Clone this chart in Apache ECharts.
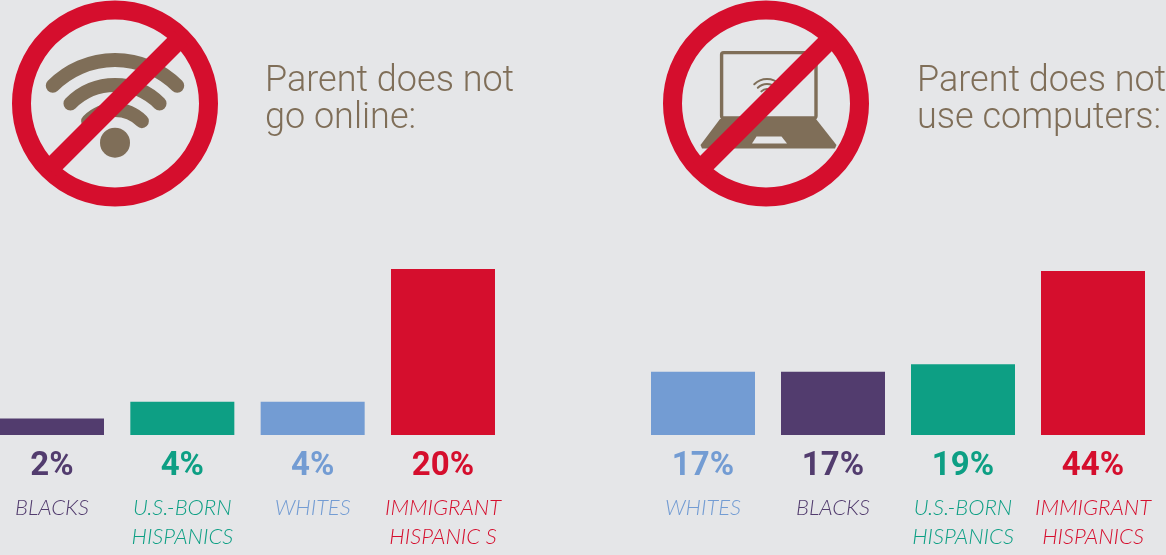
<!DOCTYPE html>
<html>
<head>
<meta charset="utf-8">
<title>Parents and technology use</title>
<script src="https://cdn.jsdelivr.net/npm/echarts@6/dist/echarts.min.js"></script>
<style>
  html, body { margin: 0; padding: 0; background: #e5e6e8; }
  #chart { width: 1166px; height: 555px; }
</style>
</head>
<body>
<div id="chart"></div>
<script>
// Share of each group's parents, in percent
const onlineCategories = ['BLACKS', 'U.S.-BORN\nHISPANICS', 'WHITES', 'IMMIGRANT\nHISPANIC S'];
const onlineGroups = ['black', 'usBorn', 'white', 'immigrant'];
const onlineValues = [2, 4, 4, 20];

const computerCategories = ['WHITES', 'BLACKS', 'U.S.-BORN\nHISPANICS', 'IMMIGRANT\nHISPANICS'];
const computerGroups = ['white', 'black', 'usBorn', 'immigrant'];
const computerValues = [17, 17, 19, 44];

const onlineTitle = 'Parent does not\ngo online:';
const computerTitle = 'Parent does not\nuse computers:';

const groupColors = { black: '#523c6e', usBorn: '#0d9f84', white: '#739cd3', immigrant: '#d50e2d' };
const RED = '#d50e2d', BROWN = '#7f6e58', PAPER = '#e5e6e8';
const deg = Math.PI / 180;

function panel(index, categories, groups, values) {
  const xAxis = {
    gridIndex: index, type: 'category', data: categories,
    axisLine: { show: false }, axisTick: { show: false },
    axisLabel: {
      interval: 0, margin: 58, lineHeight: 29, fontSize: 22, fontStyle: 'italic', fontWeight: 300,
      fontFamily: 'Lato, sans-serif',
      color: (v, i) => groupColors[groups[i]]
    }
  };
  const yAxis = { gridIndex: index, type: 'value', min: 0, max: values[3], show: false, splitLine: { show: false } };
  const series = {
    type: 'bar', xAxisIndex: index, yAxisIndex: index, barWidth: 104, silent: true,
    itemStyle: { color: p => groupColors[groups[p.dataIndex]] },
    label: {
      show: true, position: 'bottom', distance: 15, formatter: '{c}%',
      fontFamily: 'Roboto, sans-serif', fontWeight: 700, fontSize: 33
    },
    data: values.map((v, i) => ({ value: v, label: { color: groupColors[groups[i]] } }))
  };
  return { xAxis, yAxis, series };
}

// Forbidden sign: ring plus diagonal bar, drawn over the icon beneath it
function prohibition(cx, cy) {
  const d = 93 * Math.SQRT1_2;
  return [
    { type: 'circle', shape: { cx, cy, r: 93.5 }, style: { fill: 'none', stroke: RED, lineWidth: 19 } },
    { type: 'line', shape: { x1: cx - d, y1: cy + d, x2: cx + d, y2: cy - d }, style: { stroke: RED, lineWidth: 19 } }
  ];
}

function wifi(cx, cy, radii, width, dot, dotY) {
  const parts = radii.map(r => ({
    type: 'arc',
    shape: { cx, cy, r, startAngle: -135 * deg, endAngle: -45 * deg, clockwise: true },
    style: { fill: 'none', stroke: BROWN, lineWidth: width, lineCap: 'round' }
  }));
  parts.push({ type: 'circle', shape: { cx, cy: dotY, r: dot }, style: { fill: BROWN } });
  return parts;
}

function laptop() {
  return [
    { type: 'rect', shape: { x: 721.6, y: 52.6, width: 94.4, height: 65.4, r: 2 },
      style: { fill: 'none', stroke: BROWN, lineWidth: 3.4 } },
    { type: 'polygon', shape: { points: [[720, 119], [816, 119], [836.5, 145], [835, 148.5], [702, 148.5], [700.5, 145]] },
      style: { fill: BROWN } },
    { type: 'polygon', shape: { points: [[756.5, 136.5], [781.5, 136.5], [787, 143.5], [752, 143.5]] },
      style: { fill: PAPER } }
  ];
}

const a = panel(0, onlineCategories, onlineGroups, onlineValues);
const b = panel(1, computerCategories, computerGroups, computerValues);

const titleStyle = {
  fontFamily: 'Roboto, sans-serif', fontWeight: 300, fontSize: 36, lineHeight: 37, color: BROWN
};

const chart = echarts.init(document.getElementById('chart'), null, { renderer: 'canvas' });
chart.setOption({
  backgroundColor: PAPER,
  animation: false,
  title: [
    { text: onlineTitle, left: 265, top: 63, padding: 0, textStyle: titleStyle },
    { text: computerTitle, left: 917, top: 63, padding: 0, textStyle: titleStyle }
  ],
  grid: [
    { left: -13.17, width: 521.33, top: 269, height: 166, outerBoundsMode: 'none' },
    { left: 638, width: 520, top: 271, height: 164, outerBoundsMode: 'none' }
  ],
  xAxis: [a.xAxis, b.xAxis],
  yAxis: [a.yAxis, b.yAxis],
  series: [a.series, b.series],
  graphic: [
    ...wifi(115, 148, [88, 63, 38], 14, 15, 142.7),
    ...prohibition(115, 103.5),
    ...laptop(),
    ...wifi(767, 97, [18, 13, 8], 2, 2, 94),
    ...prohibition(766, 103.5)
  ]
});
</script>
</body>
</html>
